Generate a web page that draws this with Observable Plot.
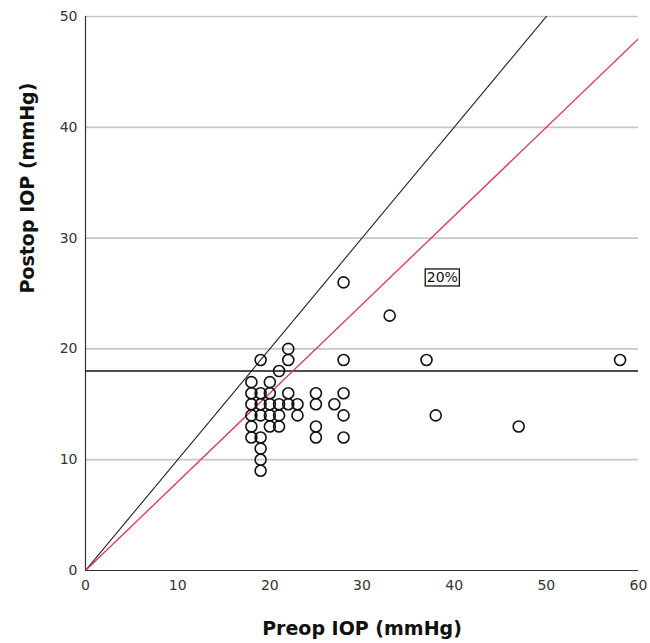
<!DOCTYPE html>
<html>
<head>
<meta charset="utf-8">
<script src="https://cdn.jsdelivr.net/npm/d3@7"></script>
<script src="https://cdn.jsdelivr.net/npm/@observablehq/plot@0.6"></script>
<style>
  html, body { margin: 0; padding: 0; background: #fff; }
  #chart { width: 650px; height: 643px; }
</style>
</head>
<body>
<div id="chart"></div>
<script>
// Data
const preop  = [28, 33, 37, 58, 28, 38, 47,
                28, 28, 28, 27,
                25, 25, 25, 25,
                22, 22, 19, 21,
                18, 20,
                18, 19, 20, 22,
                18, 19, 20, 21, 22, 23,
                18, 19, 20, 21, 23,
                18, 20, 21,
                18, 19,
                19, 19, 19];
const postop = [26, 23, 19, 19, 19, 14, 13,
                16, 14, 12, 15,
                16, 15, 13, 12,
                20, 19, 19, 18,
                17, 17,
                16, 16, 16, 16,
                15, 15, 15, 15, 15, 15,
                14, 14, 14, 14, 14,
                13, 13, 13,
                12, 12,
                11, 10, 9];
const xTicks = [0, 10, 20, 30, 40, 50, 60];
const yTicks = [0, 10, 20, 30, 40, 50];
const identityLineX = [0, 60];
const identityLineY = [0, 60];
const reductionLineX = [0, 60];
const reductionLineY = [0, 48];
const thresholdY = [18];
const labelText = ["20%"];
const labelX = [40.4];
const labelY = [26.4];

const points = preop.map((x, i) => ({x, y: postop[i]}));
const identity = identityLineX.map((x, i) => ({x, y: identityLineY[i]}));
const reduction = reductionLineX.map((x, i) => ({x, y: reductionLineY[i]}));
const labels = labelText.map((t, i) => ({t, x: labelX[i], y: labelY[i]}));

const chart = Plot.plot({
  width: 650,
  height: 643,
  marginLeft: 85,
  marginRight: 12,
  marginTop: 16,
  marginBottom: 73,
  style: {fontFamily: "DejaVu Sans, sans-serif", fontSize: "14px", color: "#333", background: "#fff"},
  x: {domain: [0, 60], ticks: xTicks, tickSize: 0, tickPadding: 10, label: null},
  y: {domain: [0, 50], ticks: yTicks, tickSize: 0, tickPadding: 8, label: null},
  marks: [
    Plot.gridY(yTicks.filter(d => d > 0), {stroke: "#c6c6c6", strokeOpacity: 1, strokeWidth: 1.7}),
    Plot.ruleX([0], {stroke: "#333", strokeWidth: 1.2}),
    Plot.ruleY([0], {stroke: "#333", strokeWidth: 1.2}),
    Plot.ruleY(thresholdY, {stroke: "#111", strokeWidth: 1.5}),
    Plot.line(identity, {x: "x", y: "y", stroke: "#222", strokeWidth: 1.1, clip: true}),
    Plot.line(reduction, {x: "x", y: "y", stroke: "#e0325a", strokeWidth: 1.3, clip: true}),
    Plot.dot(points, {x: "x", y: "y", r: 5.5, stroke: "#111", strokeWidth: 1.6, fill: "none"}),
    Plot.text(labels, {x: "x", y: "y", text: "t", fontSize: 14, fill: "#111", textAnchor: "end", className: "boxlabel"}),
    Plot.axisX(xTicks, {tickSize: 0, tickPadding: 10, fontSize: 14, fill: "#333", label: null}),
    Plot.axisY(yTicks, {tickSize: 0, tickPadding: 8, fontSize: 14, fill: "#333", label: null}),
    Plot.text(["Preop IOP (mmHg)"], {frameAnchor: "bottom", dy: 64, fontSize: 19, fontWeight: "bold", fill: "#111"}),
    Plot.text(["Postop IOP (mmHg)"], {frameAnchor: "left", dx: -58, rotate: -90, fontSize: 19, fontWeight: "bold", fill: "#111"})
  ]
});
document.getElementById("chart").appendChild(chart);

// Box around the annotation label
chart.querySelectorAll(".boxlabel text").forEach(t => {
  const b = t.getBBox();
  const r = document.createElementNS("http://www.w3.org/2000/svg", "rect");
  r.setAttribute("x", b.x - 1.5);
  r.setAttribute("y", b.y - 0.5);
  r.setAttribute("width", b.width + 3);
  r.setAttribute("height", b.height + 1);
  r.setAttribute("fill", "#fff");
  r.setAttribute("stroke", "#111");
  r.setAttribute("stroke-width", 1.3);
  const tr = t.getAttribute("transform");
  if (tr) r.setAttribute("transform", tr);
  t.parentNode.insertBefore(r, t);
});
</script>
</body>
</html>
